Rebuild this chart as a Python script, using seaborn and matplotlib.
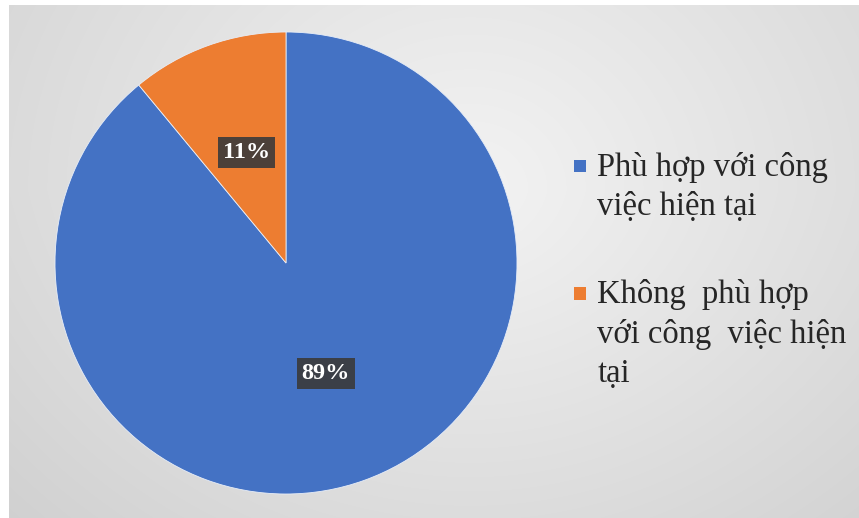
import numpy as np
import matplotlib
matplotlib.use("Agg")
import matplotlib.pyplot as plt
import seaborn as sns
from matplotlib.patches import Rectangle
from matplotlib.legend_handler import HandlerPatch

# ---- data ----
categories = ["Phù hợp với công\nviệc hiện tại", "Không  phù hợp\nvới công  việc hiện\ntại"]
values = [89, 11]
colors = ["#4472C4", "#ED7D31"]

sns.set_theme(style="white")
plt.rcParams['font.family'] = ['Liberation Serif', 'DejaVu Serif']

W, H = 859, 518
fig = plt.figure(figsize=(W / 100, H / 100), dpi=100, facecolor="white")

# gradient background panel
bx0, by0, bx1, by1 = 9, 5, 859, 518  # pixel box (top-left origin)
bg = fig.add_axes([bx0 / W, 1 - by1 / H, (bx1 - bx0) / W, (by1 - by0) / H], zorder=0)
yy, xx = np.mgrid[by0:by1, bx0:bx1]
r = np.sqrt(((xx - 470) / 1.0) ** 2 + ((yy - 190) / 0.9) ** 2)
v = 243 - 0.052 * r - 0.012 * np.clip(yy - 190, 0, None)
v = np.clip(v, 0, 255) / 255.0
img = np.dstack([v, v, v])
bg.imshow(img, aspect="auto", extent=[0, 1, 0, 1], interpolation="bilinear")
bg.set_axis_off()

# pie axes
cx, cy, R = 286, 263, 231
ax = fig.add_axes([(cx - R) / W, 1 - (cy + R) / H, 2 * R / W, 2 * R / H], zorder=1)
ax.set_facecolor("none")
wedges, texts, autotexts = ax.pie(
    values, colors=colors, startangle=90 - values[0] / 100 * 360, counterclock=True,
    autopct=lambda p: f"{p:.0f}%", pctdistance=0.51,
    wedgeprops=dict(edgecolor="#e8eef8", linewidth=0.6),
    textprops=dict(color="white", fontsize=17.5, fontweight="bold", family=["Liberation Serif"]),
)
for t in autotexts:
    t.set_bbox(dict(boxstyle="square,pad=0.2", facecolor="#3a3a3a", edgecolor="none", alpha=0.9))
ax.set_xlim(-1, 1)
ax.set_ylim(-1, 1)
ax.set_aspect("equal")
ax.set_axis_off()

LINE_PT = 28.8  # 40 px line pitch


class TopSquare(HandlerPatch):
    def __init__(self, nlines, **kw):
        super().__init__(**kw)
        self.nlines = nlines

    def create_artists(self, legend, orig_handle, xdescent, ydescent, width, height, fontsize, trans):
        s = 9.0
        off = (self.nlines - 1) / 2 * LINE_PT
        p = Rectangle((width - s - 1, (height - s) / 2 - ydescent + off + 1), s, s,
                      facecolor=orig_handle.get_facecolor(), edgecolor="none", transform=trans)
        return [p]


handles = [Rectangle((0, 0), 1, 1, facecolor=c) for c in colors]
hmap = {h: TopSquare(lab.count("\n") + 1) for h, lab in zip(handles, categories)}
leg = fig.legend(handles, categories, loc="upper left", bbox_to_anchor=(568 / W, 1 - 152 / H),
                 frameon=False, fontsize=23.5, handler_map=hmap, handlelength=0.6,
                 handletextpad=0.3, labelspacing=1.75, borderaxespad=0, borderpad=0)
for t in leg.get_texts():
    t.set_color("#262626")
    t.set_linespacing(1.37)

fig.savefig("out.png", dpi=100, facecolor="white")
